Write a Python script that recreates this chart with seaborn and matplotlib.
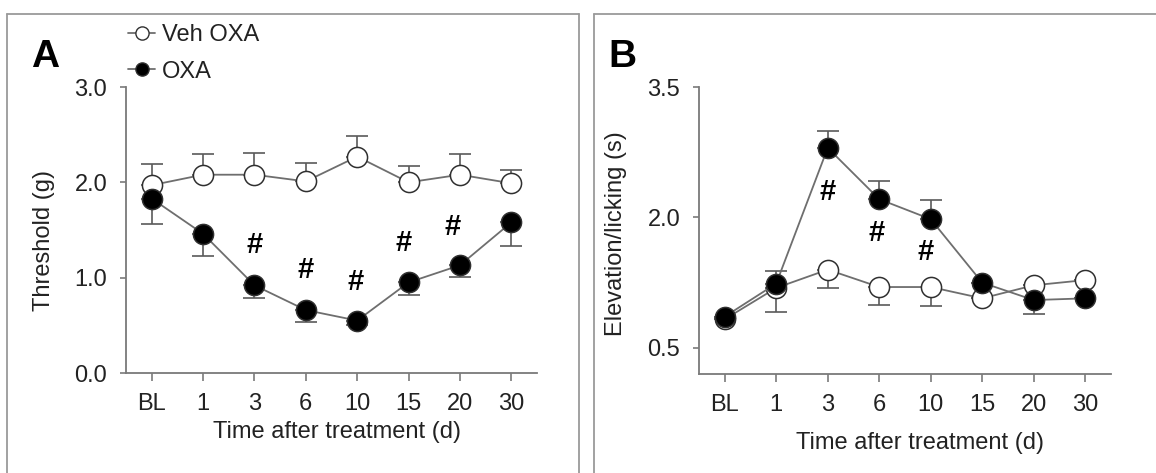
import matplotlib
matplotlib.use("Agg")
import matplotlib.pyplot as plt
import seaborn as sns
import numpy as np
import pandas as pd
from matplotlib.lines import Line2D

# ---------------- data ----------------
categories = ["BL", "1", "3", "6", "10", "15", "20", "30"]

# Panel A: mechanical threshold (g)
a_veh = [1.97, 2.08, 2.08, 2.01, 2.27, 2.00, 2.08, 1.99]
a_veh_err_up = [0.22, 0.22, 0.23, 0.19, 0.22, 0.17, 0.22, 0.14]
a_oxa = [1.83, 1.46, 0.92, 0.66, 0.55, 0.95, 1.13, 1.58]
a_oxa_err_lo = [0.27, 0.23, 0.13, 0.13, 0.05, 0.13, 0.12, 0.25]
a_sig_cats = ["3", "6", "10", "15", "20"]
a_sig_y = [1.34, 1.08, 0.95, 1.36, 1.53]

# Panel B: elevation/licking (s)
b_veh = [0.83, 1.19, 1.40, 1.20, 1.20, 1.07, 1.22, 1.28]
b_veh_err_lo = [0.0, 0.28, 0.21, 0.21, 0.22, 0.0, 0.0, 0.0]
b_oxa = [0.86, 1.24, 2.80, 2.21, 1.98, 1.25, 1.05, 1.07]
b_oxa_err_up = [0.0, 0.14, 0.19, 0.21, 0.22, 0.0, 0.0, 0.0]
b_oxa_err_lo = [0.0, 0.0, 0.0, 0.0, 0.0, 0.0, 0.16, 0.0]
b_sig_cats = ["3", "6", "10"]
b_sig_y = [2.29, 1.82, 1.60]

series_names = ["Veh OXA", "OXA"]

# ---------------- style ----------------
sns.set_theme(style="ticks")
plt.rcParams["font.family"] = ["Liberation Sans", "DejaVu Sans"]
TXT = "#222222"
SPINE = "#7a7a7a"
LINE = "#6e6e6e"
EDGE = "#303030"
FS = 17

W, H = 1156, 473
fig = plt.figure(figsize=(W / 100, H / 100), dpi=100)

def fx(px):
    return px / W

def fy(py):
    return 1 - py / H

axA = fig.add_axes([fx(126), fy(373), fx(537 - 126), (373 - 87) / H])
axB = fig.add_axes([fx(699), fy(374), fx(1111 - 699), (374 - 87) / H])

pos = np.arange(len(categories))
idx = {c: i for i, c in enumerate(categories)}


def draw_series(ax, vals, lo, up, filled):
    face = "black" if filled else "white"
    ax.errorbar(pos, vals, yerr=[lo, up], fmt="none", ecolor="#5a5a5a",
                elinewidth=1.2, capsize=8, capthick=1.2, zorder=2)
    sns.lineplot(x=pos, y=vals, ax=ax, color=LINE, linewidth=1.3,
                 marker="o", markersize=14.5, markerfacecolor=face,
                 markeredgecolor=EDGE, markeredgewidth=1.1,
                 zorder=4 if filled else 3, legend=False)


zeros = [0.0] * len(categories)
draw_series(axA, a_veh, zeros, a_veh_err_up, False)
draw_series(axA, a_oxa, a_oxa_err_lo, zeros, True)
draw_series(axB, b_veh, b_veh_err_lo, zeros, False)
draw_series(axB, b_oxa, b_oxa_err_lo, b_oxa_err_up, True)

a_sig_dx = [0.0, 0.0, -0.04, -0.09, -0.15]
for c, y, dx in zip(a_sig_cats, a_sig_y, a_sig_dx):
    axA.text(idx[c] + dx, y, "#", ha="center", va="center", fontsize=21,
             color="black", fontweight="bold")
b_sig_dx = [0.0, -0.05, -0.1]
for c, y, dx in zip(b_sig_cats, b_sig_y, b_sig_dx):
    axB.text(idx[c] + dx, y, "#", ha="center", va="center", fontsize=21,
             color="black", fontweight="bold")


def style_axis(ax, ylim, yticks, ylabel, ylc, xlc):
    ax.set_xlim(-0.5, 7.5)
    ax.set_ylim(*ylim)
    ax.set_xticks(pos)
    ax.set_xticklabels(categories)
    ax.set_yticks(yticks)
    ax.set_yticklabels([f"{t:.1f}" for t in yticks])
    for s in ["top", "right"]:
        ax.spines[s].set_visible(False)
    for s in ["left", "bottom"]:
        ax.spines[s].set_color(SPINE)
        ax.spines[s].set_linewidth(1.3)
    ax.tick_params(axis="both", colors=SPINE, labelcolor=TXT, labelsize=FS,
                   width=1.2, direction="out", pad=9)
    ax.tick_params(axis="x", length=5.5)
    ax.tick_params(axis="y", length=4.5)
    ax.set_facecolor("white")
    ax.set_ylabel(ylabel, fontsize=FS, color=TXT, va="center")
    ax.yaxis.set_label_coords(*ylc)
    ax.set_xlabel("Time after treatment (d)", fontsize=FS, color=TXT, va="center")
    ax.xaxis.set_label_coords(*xlc)


style_axis(axA, (0, 3.0), [0.0, 1.0, 2.0, 3.0], "Threshold (g)",
           (-0.20, 0.465), (0.513, -0.206))
style_axis(axB, (0.2, 3.5), [0.5, 2.0, 3.5], "Elevation/licking (s)",
           (-0.201, 0.488), (0.536, -0.240))

# legend
handles = [
    Line2D([], [], color=LINE, lw=1.3, marker="o", markersize=9.5,
           markerfacecolor="white", markeredgecolor=EDGE, markeredgewidth=1.0),
    Line2D([], [], color=LINE, lw=1.3, marker="o", markersize=9.5,
           markerfacecolor="black", markeredgecolor=EDGE, markeredgewidth=1.0),
]
fig.legend(handles, series_names, loc="upper left",
           bbox_to_anchor=(fx(128), fy(24)), frameon=False, fontsize=FS,
           handlelength=1.15, handletextpad=0.3, labelspacing=0.62,
           borderpad=0, borderaxespad=0, labelcolor=TXT)

# panel letters
fig.text(fx(31), fy(67), "A", fontsize=28, fontweight="bold", color="black",
         ha="left", va="baseline")
fig.text(fx(608), fy(67), "B", fontsize=28, fontweight="bold", color="black",
         ha="left", va="baseline")

# panel frames
BORDER = "#9a9a9a"
for x0, x1 in [(7, 579), (594, 1160)]:
    fig.add_artist(Line2D([fx(x0), fx(x0)], [fy(14), fy(480)], color=BORDER, lw=1.3))
    fig.add_artist(Line2D([fx(x0), fx(x1)], [fy(14), fy(14)], color=BORDER, lw=1.3))
fig.add_artist(Line2D([fx(579), fx(579)], [fy(14), fy(480)], color=BORDER, lw=1.3))

fig.savefig("out.png", dpi=100, facecolor="white")
